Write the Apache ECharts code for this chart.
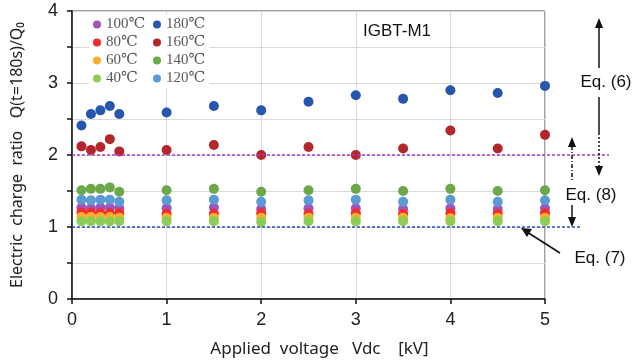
<!DOCTYPE html>
<html><head><meta charset="utf-8">
<script src="https://cdn.jsdelivr.net/npm/echarts@6/dist/echarts.min.js"></script>
<style>html,body{margin:0;padding:0;background:#fff}#c{width:643px;height:362px}</style>
</head><body><div id="c"></div>
<script>
const voltages = [0.1,0.2,0.3,0.4,0.5,1,1.5,2,2.5,3,3.5,4,4.5,5];
const seriesNames = ['100℃','80℃','60℃','40℃','180℃','160℃','140℃','120℃'];
const seriesColors = ['#a055b8','#f52a2a','#f7b12e','#8ccd55','#2656ad','#b4262c','#6ca84a','#5a9bd4'];
const v100 = [1.27,1.26,1.27,1.27,1.26,1.26,1.27,1.25,1.26,1.26,1.25,1.26,1.25,1.26];
const v80  = [1.20,1.20,1.19,1.19,1.19,1.18,1.18,1.19,1.18,1.19,1.18,1.19,1.18,1.19];
const v60  = [1.14,1.14,1.14,1.14,1.13,1.13,1.13,1.13,1.13,1.13,1.13,1.12,1.13,1.13];
const v40  = [1.08,1.08,1.08,1.08,1.08,1.08,1.08,1.07,1.08,1.08,1.08,1.08,1.08,1.08];
const v180 = [2.41,2.57,2.62,2.68,2.57,2.59,2.68,2.62,2.74,2.83,2.78,2.90,2.86,2.96];
const v160 = [2.12,2.07,2.11,2.22,2.05,2.07,2.14,2.00,2.11,2.00,2.09,2.34,2.09,2.28];
const v140 = [1.51,1.53,1.53,1.55,1.49,1.51,1.53,1.49,1.51,1.53,1.50,1.53,1.50,1.51];
const v120 = [1.38,1.37,1.38,1.38,1.35,1.37,1.38,1.35,1.37,1.38,1.35,1.38,1.35,1.37];
const seriesValues = [v100,v80,v60,v40,v180,v160,v140,v120];
const xTicks = [0,1,2,3,4,5];
const yTicks = [0,1,2,3,4];
const refLevels = [2, 1];
const refColors = ['#a040c0','#2a4fc0'];

const chart = echarts.init(document.getElementById('c'));
const legendText = {fontFamily:'"Liberation Serif","DejaVu Serif","Noto Sans CJK JP",serif', fontSize:15, color:'#595959', lineHeight:15};
chart.setOption({
  animation:false,
  grid:{left:72,right:98,top:11,bottom:63,show:true,borderColor:'#444',borderWidth:1,backgroundColor:'transparent',
        containLabel:false,outerBoundsMode:'none'},
  legend:[
    {data:seriesNames.slice(0,4),orient:'vertical',left:89,top:15,icon:'circle',itemWidth:8,itemHeight:8,itemGap:3,
     backgroundColor:'#fff',padding:[2,4,2,4],textStyle:legendText},
    {data:seriesNames.slice(4),orient:'vertical',left:149,top:15,icon:'circle',itemWidth:8,itemHeight:8,itemGap:3,
     backgroundColor:'#fff',padding:[2,4,2,4],textStyle:legendText}
  ],
  xAxis:{type:'value',min:0,max:5,interval:1,
    name:'Applied  voltage   Vdc    [kV]',nameLocation:'middle',nameGap:42,
    nameTextStyle:{fontFamily:'"Noto Sans","Liberation Sans",sans-serif',fontSize:17,color:'#222',padding:[0,0,0,22]},
    axisLine:{lineStyle:{color:'#111',width:1.5}},
    axisTick:{show:true,length:5,lineStyle:{color:'#111',width:1.5}},
    axisLabel:{margin:12,fontFamily:'"Liberation Sans",sans-serif',fontSize:18,color:'#222',
      formatter:v=>xTicks.includes(v)?String(v):''},
    splitLine:{show:true,lineStyle:{color:'#d9d9d9',width:1}}},
  yAxis:{type:'value',min:0,max:4,interval:0.5,
    name:'Electric  charge  ratio   Q(t=180s)/Q₀',nameLocation:'middle',nameGap:37,
    nameTextStyle:{fontFamily:'"Noto Sans","Liberation Sans",sans-serif',fontSize:16,color:'#222',padding:[0,0,10,0]},
    axisLine:{show:true,lineStyle:{color:'#111',width:1.5}},
    axisTick:{show:true,length:5,lineStyle:{color:'#111',width:1.5}},
    axisLabel:{margin:14,fontFamily:'"Liberation Sans",sans-serif',fontSize:18,color:'#222',
      formatter:v=>yTicks.includes(v)?String(v):''},
    splitLine:{show:true,lineStyle:{color:'#d9d9d9',width:1}}},
  series:seriesNames.map((n,i)=>({
    name:n,type:'scatter',symbol:'circle',symbolSize:10,
    itemStyle:{color:seriesColors[i],opacity:1},
    data:voltages.map((x,j)=>[x,seriesValues[i][j]])
  }))
});

const p5 = chart.convertToPixel({gridIndex:0},[5,0]);
const p0 = chart.convertToPixel({gridIndex:0},[0,0]);
const yR = refLevels.map(v=>chart.convertToPixel({gridIndex:0},[0,v])[1]);
const x5 = p5[0];
const font = '17px "Liberation Sans", sans-serif';
function arrowHead(x,y,dir){
  const s = dir==='up'?1:-1;
  return {type:'polygon',shape:{points:[[x,y],[x-4,y+10*s],[x+4,y+10*s]]},style:{fill:'#111'},z:10};
}
const g = [
  {type:'line',shape:{x1:p0[0],y1:yR[0],x2:x5+64,y2:yR[0]},style:{stroke:refColors[0],lineWidth:1.5,lineDash:[3,2]},z:5},
  {type:'line',shape:{x1:p0[0],y1:yR[1],x2:x5+36,y2:yR[1]},style:{stroke:refColors[1],lineWidth:1.5,lineDash:[3,2]},z:5},
  {type:'text',left:363,top:23,style:{text:'IGBT-M1',font:'17px "Liberation Sans", sans-serif',fill:'#111'},z:10},
  arrowHead(599,18,'up'),
  {type:'line',shape:{x1:599,y1:26,x2:599,y2:68},style:{stroke:'#111',lineWidth:1.5},z:10},
  {type:'text',x:606,y:82,style:{text:'Eq. (6)',font:font,fill:'#111',align:'center',verticalAlign:'middle'},z:10},
  {type:'line',shape:{x1:599,y1:97,x2:599,y2:133},style:{stroke:'#111',lineWidth:1.5},z:10},
  {type:'line',shape:{x1:599,y1:133,x2:599,y2:166},style:{stroke:'#111',lineWidth:1.5,lineDash:[2,2]},z:10},
  arrowHead(599,176,'down'),
  arrowHead(572,137,'up'),
  {type:'line',shape:{x1:572,y1:146,x2:572,y2:182},style:{stroke:'#111',lineWidth:1.5,lineDash:[4,2,1,2]},z:10},
  {type:'text',x:591,y:195,style:{text:'Eq. (8)',font:font,fill:'#111',align:'center',verticalAlign:'middle'},z:10},
  {type:'line',shape:{x1:572,y1:205,x2:572,y2:218},style:{stroke:'#111',lineWidth:1.5},z:10},
  arrowHead(572,227,'down'),
  {type:'line',shape:{x1:560,y1:253,x2:527,y2:232},style:{stroke:'#111',lineWidth:1.5},z:10},
  {type:'polygon',shape:{points:[[521,228],[532,229],[527,237]]},style:{fill:'#111'},z:10},
  {type:'text',x:600,y:258,style:{text:'Eq. (7)',font:font,fill:'#111',align:'center',verticalAlign:'middle'},z:10}
];
chart.setOption({graphic:g});
</script></body></html>
